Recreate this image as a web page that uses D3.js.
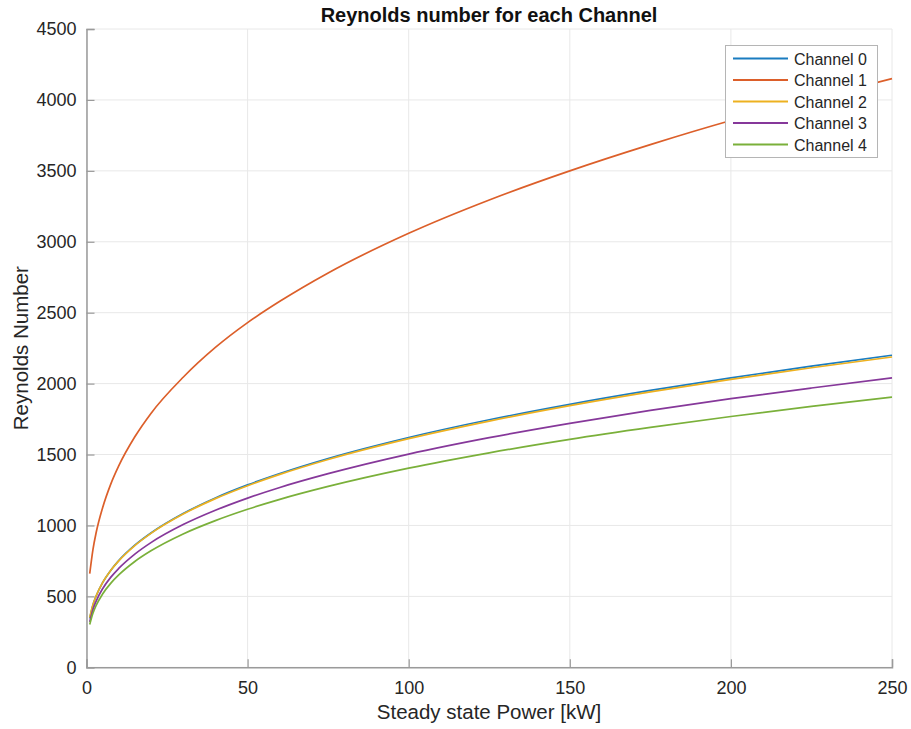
<!DOCTYPE html>
<html>
<head>
<meta charset="utf-8">
<script src="https://cdn.jsdelivr.net/npm/d3@7"></script>
<style>
  body { margin: 0; background: #fff; }
  text { font-family: "Liberation Sans", Arial, Helvetica, sans-serif; }
</style>
</head>
<body>
<svg id="chart" width="911" height="729"></svg>
<script>
// ---- data ----
const powerKW = [1, 2, 3, 5, 7.5, 10, 15, 20, 30, 40, 50, 60, 75, 100, 125, 150, 175, 200, 225, 250];
const channel0 = [345, 440, 503, 597, 683, 752, 861, 947, 1084, 1194, 1286, 1366, 1472, 1620, 1745, 1854, 1952, 2041, 2123, 2200];
const channel1 = [660, 830, 950, 1125, 1290, 1420, 1625, 1790, 2045, 2255, 2430, 2580, 2780, 3060, 3295, 3500, 3685, 3855, 4005, 4150];
const channel2 = [350, 441, 504, 597, 682, 750, 858, 944, 1080, 1189, 1280, 1360, 1465, 1612, 1736, 1845, 1942, 2030, 2112, 2188];
const channel3 = [320, 408, 467, 554, 634, 697, 798, 879, 1006, 1107, 1193, 1268, 1365, 1503, 1619, 1720, 1811, 1894, 1969, 2040];
const channel4 = [302, 381, 436, 517, 592, 651, 746, 821, 940, 1034, 1114, 1184, 1275, 1404, 1512, 1607, 1691, 1768, 1839, 1905];
const seriesNames = ["Channel 0", "Channel 1", "Channel 2", "Channel 3", "Channel 4"];
const seriesValues = [channel0, channel1, channel2, channel3, channel4];
const colors = ["#1A7CC0", "#DC5F2A", "#EDB120", "#86389A", "#7AB03A"];
const xTicks = [0, 50, 100, 150, 200, 250];
const yTicks = [0, 500, 1000, 1500, 2000, 2500, 3000, 3500, 4000, 4500];
const titleText = "Reynolds number for each Channel";
const xLabel = "Steady state Power [kW]";
const yLabel = "Reynolds Number";

// ---- layout ----
const svg = d3.select("#chart");
const pLeft = 86.5, pRight = 892, pTop = 29, pBottom = 667.3;
const x = d3.scaleLinear().domain([0, 250]).range([pLeft, pRight]);
const y = d3.scaleLinear().domain([0, 4500]).range([pBottom, pTop]);

// grid
const grid = svg.append("g");
grid.selectAll("line.gx").data(xTicks).join("line")
  .attr("x1", d => x(d)).attr("x2", d => x(d))
  .attr("y1", pTop).attr("y2", pBottom)
  .attr("stroke", "#e8e8e8").attr("stroke-width", 1);
grid.selectAll("line.gy").data(yTicks).join("line")
  .attr("x1", pLeft).attr("x2", pRight)
  .attr("y1", d => y(d)).attr("y2", d => y(d))
  .attr("stroke", "#e8e8e8").attr("stroke-width", 1);

// axes
const xAxis = d3.axisBottom(x).tickValues(xTicks).tickSize(-8).tickPadding(14).tickFormat(d3.format("d"));
const yAxis = d3.axisLeft(y).tickValues(yTicks).tickSize(-8).tickPadding(10).tickFormat(d3.format("d"));
const gx = svg.append("g").attr("transform", `translate(0,${pBottom})`).call(xAxis);
const gy = svg.append("g").attr("transform", `translate(${pLeft},0)`).call(yAxis);
[gx, gy].forEach(g => {
  g.select(".domain").attr("stroke", "#9a9a9a").attr("stroke-width", 1.5);
  g.selectAll(".tick line").attr("stroke", "#9a9a9a").attr("stroke-width", 1.2);
  g.selectAll(".tick text").attr("fill", "#262626")
    .style("font-family", '"Liberation Sans", Arial, sans-serif').style("font-size", "18px");
});

// lines
const line = d3.line().x((d, i) => x(powerKW[i])).y(d => y(d)).curve(d3.curveMonotoneX);
seriesValues.forEach((vals, k) => {
  svg.append("path").datum(vals)
    .attr("d", line)
    .attr("fill", "none")
    .attr("stroke", colors[k])
    .attr("stroke-width", 1.7);
});

// title & labels
svg.append("text").attr("x", 489).attr("y", 22).attr("text-anchor", "middle")
  .style("font-size", "20px").style("font-weight", "bold").attr("fill", "#111").text(titleText);
svg.append("text").attr("x", 489).attr("y", 719).attr("text-anchor", "middle")
  .style("font-size", "20.5px").attr("fill", "#262626").text(xLabel);
svg.append("text").attr("transform", `translate(28,${(pTop + pBottom) / 2}) rotate(-90)`)
  .attr("text-anchor", "middle").style("font-size", "20.5px").attr("fill", "#262626").text(yLabel);

// legend
const lg = svg.append("g");
lg.append("rect").attr("x", 725.5).attr("y", 45.5).attr("width", 152).attr("height", 112)
  .attr("fill", "#fff").attr("stroke", "#b5b5b5").attr("stroke-width", 1);
seriesNames.forEach((name, k) => {
  const cy = 58.5 + k * 21.5;
  lg.append("line").attr("x1", 733).attr("x2", 788).attr("y1", cy).attr("y2", cy)
    .attr("stroke", colors[k]).attr("stroke-width", 2);
  lg.append("text").attr("x", 794).attr("y", cy + 6)
    .style("font-size", "16px").attr("fill", "#262626").text(name);
});
</script>
</body>
</html>
